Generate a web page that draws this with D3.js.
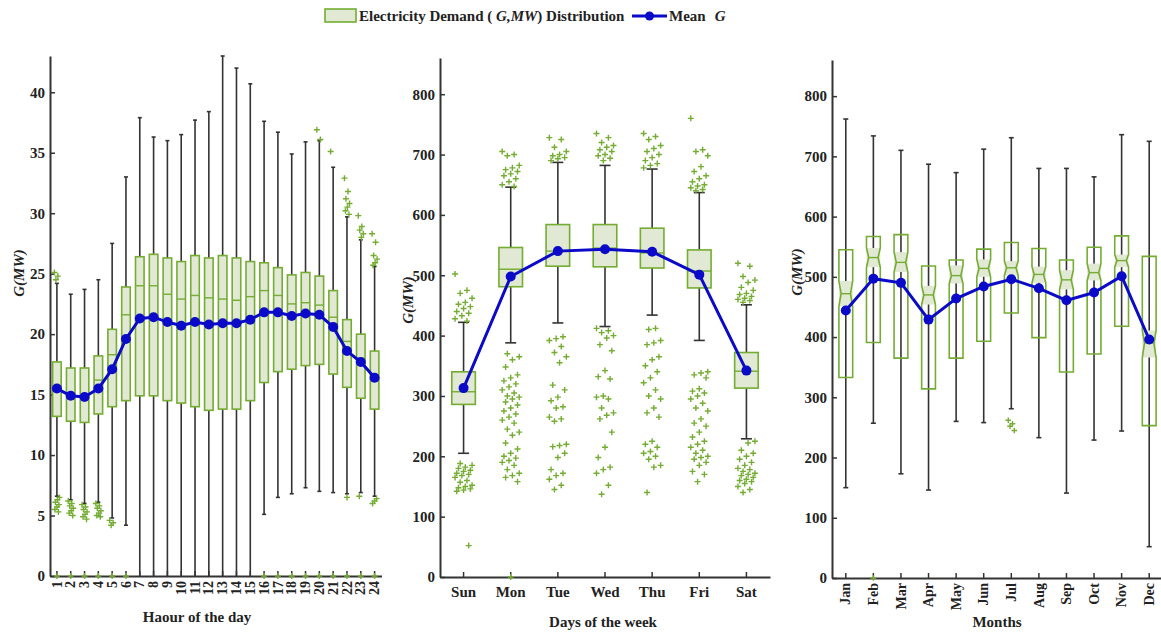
<!DOCTYPE html>
<html lang="en">
	<head>
		<meta charset="utf-8">
		<title>Electricity demand distribution</title>
		<script type="text/javascript" src="https://cdn.jsdelivr.net/npm/d3@7/dist/d3.min.js"></script>
		<style type="text/css">
			body { margin: 0; background: #fff; }
			text { font-family: "Liberation Serif", "Times New Roman", serif; font-weight: bold; fill: #222; }
		</style>
	</head>
	<body>
		<script type="text/javascript">

			//Width and height
			var w = 1161;
			var h = 635;

			//Hour of the day
			var hours = ["1","2","3","4","5","6","7","8","9","10","11","12","13","14","15","16","17","18","19","20","21","22","23","24"];
			var hourHi  = [24.2, 23.3, 23.7, 24.5, 27.5, 33.0, 37.9, 36.3, 36.0, 36.5, 37.7, 38.4, 43.0, 42.0, 40.7, 37.6, 36.7, 34.9, 35.9, 36.0, 33.8, 29.7, 27.8, 25.6];
			var hourQ3  = [17.7, 17.2, 17.2, 18.2, 20.4, 23.9, 26.4, 26.6, 26.3, 26.0, 26.5, 26.3, 26.5, 26.3, 26.0, 25.9, 25.5, 24.9, 25.1, 24.8, 23.6, 21.2, 20.0, 18.6];
			var hourMed = [15.3, 14.9, 14.8, 16.2, 18.3, 21.6, 24.0, 24.0, 23.3, 22.9, 23.2, 23.0, 22.9, 22.8, 23.1, 23.6, 23.2, 22.5, 22.6, 22.4, 21.4, 19.4, 18.0, 16.5];
			var hourQ1  = [13.2, 12.8, 12.7, 13.4, 14.0, 14.5, 14.9, 14.9, 14.5, 14.3, 14.0, 13.7, 13.8, 13.8, 14.5, 16.0, 16.9, 17.1, 17.4, 17.5, 16.7, 15.6, 14.7, 13.8];
			var hourLo  = [6.6, 6.3, 6.0, 6.1, 4.8, 4.2, 0, 0, 0, 0, 0, 0, 0, 0, 0, 5.1, 6.5, 6.8, 7.3, 7.0, 6.9, 6.8, 6.9, 6.6];
			var hourMean = [15.5, 14.9, 14.8, 15.5, 17.1, 19.6, 21.3, 21.4, 21.0, 20.7, 21.0, 20.8, 20.9, 20.9, 21.2, 21.8, 21.8, 21.5, 21.7, 21.6, 20.6, 18.6, 17.7, 16.4];
			var hourOut = [
				[25.1, 24.8, 24.5, 6.5, 6.3, 6.1, 5.9, 5.7, 5.5, 5.3, 0],
				[6.2, 6.0, 5.8, 5.6, 5.4, 5.2, 5.0, 0],
				[5.9, 5.7, 5.5, 5.3, 5.1, 4.9, 4.7, 0],
				[6.0, 5.8, 5.6, 5.4, 5.2, 5.0, 4.9, 0],
				[4.6, 4.4, 4.2, 0],
				[0],
				[], [], [], [], [], [], [], [], [],
				[0], [0], [0], [0],
				[36.9, 36.1, 0],
				[35.1, 0],
				[32.9, 31.8, 31.2, 30.8, 30.5, 30.2, 29.9, 6.5, 0],
				[29.8, 28.9, 28.6, 28.3, 28.0, 6.6, 0],
				[28.3, 27.6, 26.5, 26.2, 25.9, 25.7, 6.4, 6.2, 6.0, 0]
			];
			var hourTicks = [0, 5, 10, 15, 20, 25, 30, 35, 40];

			//Days of the week
			var days = ["Sun", "Mon", "Tue", "Wed", "Thu", "Fri", "Sat"];
			var dayHi   = [422, 646, 687, 682, 676, 637, 451];
			var dayQ3   = [340, 546, 584, 584, 578, 542, 372];
			var dayMed  = [307, 510, 540, 545, 537, 507, 341];
			var dayQ1   = [286, 481, 515, 514, 512, 479, 313];
			var dayLo   = [205, 388, 421, 415, 434, 392, 229];
			var dayMean = [313, 498, 540, 543, 539, 501, 342];
			var dayOut = [
				[502, 475, 470, 462, 455, 452, 448, 445, 440, 437, 433, 428, 424,
				 188, 185, 182, 180, 177, 175, 172, 170, 168, 165, 160, 157, 152, 150, 148, 146, 144, 142, 52],
				[705, 700, 698, 682, 678, 675, 672, 668, 665, 660, 655, 650, 647,
				 370, 365, 360, 348, 335, 330, 325, 320, 315, 310, 305, 300, 298, 295, 290, 285, 280, 275, 270, 265,
				 260, 255, 245, 240, 235, 222, 212, 205, 200, 197, 193, 190, 185, 178, 172, 168, 165, 158, 0],
				[728, 725, 712, 705, 700, 698, 695, 693, 690,
				 398, 395, 392, 382, 372, 365, 355, 318, 310, 298, 292, 282, 280, 265, 262, 258, 220, 218, 216, 205,
				 198, 178, 172, 168, 162, 152, 145],
				[735, 728, 720, 715, 712, 708, 705, 700, 698, 694, 690,
				 412, 408, 405, 400, 396, 385, 375, 342, 332, 328, 300, 298, 295, 280, 272, 268, 262, 240, 215, 198,
				 182, 178, 172, 152, 137],
				[735, 730, 725, 715, 710, 705, 700, 695, 690, 685, 682, 678,
				 412, 410, 392, 388, 385, 365, 360, 350, 340, 330, 322, 310, 300, 295, 280, 272, 265, 225, 220, 215,
				 208, 205, 200, 195, 185, 182, 140],
				[760, 708, 705, 698, 680, 672, 665, 660, 655, 650, 648, 645, 642, 640,
				 340, 338, 335, 330, 312, 308, 305, 300, 295, 288, 280, 275, 262, 255, 250, 240, 232, 225, 220, 215,
				 210, 205, 200, 198, 195, 190, 185, 175, 170, 158],
				[520, 515, 498, 492, 488, 480, 475, 470, 468, 465, 462, 460, 458, 455,
				 225, 222, 210, 205, 200, 195, 190, 185, 180, 178, 175, 172, 170, 168, 165, 162, 160, 158, 155, 150,
				 145, 140]
			];

			//Months
			var months = ["Jan", "Feb", "Mar", "Apr", "May", "Jun", "Jul", "Aug", "Sep", "Oct", "Nov", "Dec"];
			var monHi   = [762, 734, 710, 687, 673, 712, 731, 680, 680, 666, 736, 725];
			var monQ3   = [545, 567, 570, 518, 528, 546, 557, 547, 528, 549, 568, 534];
			var monNHi  = [493, 548, 541, 485, 519, 529, 526, 517, 511, 522, 537, 411];
			var monMed  = [472, 532, 524, 470, 502, 514, 515, 504, 495, 507, 527, 390];
			var monNLo  = [451, 516, 508, 454, 489, 500, 502, 490, 479, 494, 516, 366];
			var monQ1   = [333, 391, 365, 314, 365, 393, 440, 399, 342, 372, 418, 253];
			var monLo   = [150, 257, 173, 146, 260, 258, 281, 233, 141, 229, 244, 52];
			var monMean = [444, 497, 490, 429, 464, 484, 496, 481, 461, 474, 501, 396];
			var monOut = [[], [0], [], [], [], [], [262, 256, 252, 245], [], [], [], [], []];
			var demandTicks = [0, 100, 200, 300, 400, 500, 600, 700, 800];

			var green = "#74ad32";
			var boxFill = "#e1e8d3";
			var blue = "#0a0ac8";
			var dark = "#333";

			//Create SVG element
			var svg = d3.select("body")
						.append("svg")
						.attr("width", w)
						.attr("height", h);

			// deterministic spread for the outlier crosses
			function spread(i) {
				return ((i * 7) % 11) / 10 - 0.5;
			}

			function drawPanel(p) {
				var stats = p.labels.map(function(d, i) {
					return {
						label: d, hi: p.hi[i], q3: p.q3[i], med: p.med[i], q1: p.q1[i], lo: p.lo[i],
						mean: p.mean[i], out: p.out[i],
						nhi: p.nhi ? p.nhi[i] : null, nlo: p.nlo ? p.nlo[i] : null
					};
				});

				var xScale = d3.scaleBand()
								.domain(p.labels)
								.range([p.x0, p.x1]);
				var yScale = d3.scaleLinear()
								.domain([0, p.ymax])
								.range([p.y0, p.y1]);
				var cx = function(d) { return xScale(d.label) + xScale.bandwidth() / 2; };
				var bw = xScale.bandwidth() * p.boxRatio;

				//Create X axis
				var xAxis = d3.axisBottom(xScale).tickSizeInner(-5).tickSizeOuter(0);
				var gx = svg.append("g")
					.attr("class", "x axis")
					.attr("transform", "translate(0," + p.y0 + ")")
					.call(xAxis);
				gx.selectAll("text")
					.style("font-size", p.xFont + "px")
					.attr("fill", "#222");
				if (p.rotate) {
					gx.selectAll("text")
						.attr("y", 0)
						.attr("x", -5)
						.attr("dy", "0.33em")
						.attr("transform", "rotate(-90)")
						.style("text-anchor", "end");
				} else {
					gx.selectAll("text").attr("dy", "1.1em");
				}

				//Create Y axis
				var yAxis = d3.axisLeft(yScale).tickValues(p.ticks).tickSizeInner(-5).tickSizeOuter(0).tickPadding(5);
				var gy = svg.append("g")
					.attr("class", "y axis")
					.attr("transform", "translate(" + p.x0 + ",0)")
					.call(yAxis);
				gy.selectAll("text")
					.style("font-size", "15px")
					.attr("fill", "#222");

				[gx, gy].forEach(function(a) {
					a.select(".domain").attr("stroke", dark).attr("stroke-width", 2);
					a.selectAll(".tick line").attr("stroke", dark).attr("stroke-width", 1.5);
				});

				var g = svg.append("g");

				//Whiskers
				g.selectAll("line.whisker")
					.data(stats)
					.enter()
					.append("line")
					.attr("class", "whisker")
					.attr("x1", cx).attr("x2", cx)
					.attr("y1", function(d) { return yScale(d.hi); })
					.attr("y2", function(d) { return yScale(d.lo); })
					.attr("stroke", dark)
					.attr("stroke-width", 1.6);

				//Whisker caps
				["hi", "lo"].forEach(function(k) {
					g.selectAll("line.cap-" + k)
						.data(stats.filter(function(d) { return d[k] > 0; }))
						.enter()
						.append("line")
						.attr("x1", function(d) { return cx(d) - p.cap / 2; })
						.attr("x2", function(d) { return cx(d) + p.cap / 2; })
						.attr("y1", function(d) { return yScale(d[k]); })
						.attr("y2", function(d) { return yScale(d[k]); })
						.attr("stroke", dark)
						.attr("stroke-width", 1.6);
				});

				if (p.notch) {
					//Notch confidence band
					g.selectAll("rect.nband")
						.data(stats)
						.enter()
						.append("rect")
						.attr("x", function(d) { return cx(d) - bw / 2; })
						.attr("width", bw)
						.attr("y", function(d) { return yScale(d.nhi); })
						.attr("height", function(d) { return yScale(d.nlo) - yScale(d.nhi); })
						.attr("fill", boxFill);

					var ind = bw * 0.16;
					g.selectAll("path.nbox")
						.data(stats)
						.enter()
						.append("path")
						.attr("d", function(d) {
							var l = cx(d) - bw / 2, r = cx(d) + bw / 2;
							return "M" + l + "," + yScale(d.q3) + "H" + r +
								"V" + yScale(d.nhi) + "L" + (r - ind) + "," + yScale(d.med) +
								"L" + r + "," + yScale(d.nlo) + "V" + yScale(d.q1) + "H" + l +
								"V" + yScale(d.nlo) + "L" + (l + ind) + "," + yScale(d.med) +
								"L" + l + "," + yScale(d.nhi) + "Z";
						})
						.attr("fill", "none")
						.attr("stroke", green)
						.attr("stroke-width", 1.6);

					g.selectAll("line.med")
						.data(stats)
						.enter()
						.append("line")
						.attr("x1", function(d) { return cx(d) - bw / 2 + ind; })
						.attr("x2", function(d) { return cx(d) + bw / 2 - ind; })
						.attr("y1", function(d) { return yScale(d.med); })
						.attr("y2", function(d) { return yScale(d.med); })
						.attr("stroke", green)
						.attr("stroke-width", 1.4);
				} else {
					//Boxes
					g.selectAll("rect.box")
						.data(stats)
						.enter()
						.append("rect")
						.attr("x", function(d) { return cx(d) - bw / 2; })
						.attr("width", bw)
						.attr("y", function(d) { return yScale(d.q3); })
						.attr("height", function(d) { return yScale(d.q1) - yScale(d.q3); })
						.attr("fill", boxFill)
						.attr("stroke", green)
						.attr("stroke-width", 1.6);

					g.selectAll("line.med")
						.data(stats)
						.enter()
						.append("line")
						.attr("x1", function(d) { return cx(d) - bw / 2; })
						.attr("x2", function(d) { return cx(d) + bw / 2; })
						.attr("y1", function(d) { return yScale(d.med); })
						.attr("y2", function(d) { return yScale(d.med); })
						.attr("stroke", green)
						.attr("stroke-width", 1.4);
				}

				//Outliers
				var pts = [];
				stats.forEach(function(d) {
					d.out.forEach(function(v, i) {
						pts.push({ x: cx(d) + (v === 0 ? 0 : spread(i) * p.jitter), v: v });
					});
				});
				g.selectAll("path.out")
					.data(pts)
					.enter()
					.append("path")
					.attr("d", function(d) {
						var x = d.x, y = yScale(d.v), s = p.plus;
						return "M" + (x - s) + "," + y + "H" + (x + s) + "M" + x + "," + (y - s) + "V" + (y + s);
					})
					.attr("stroke", green)
					.attr("stroke-width", 1.4)
					.attr("fill", "none");

				//Mean line
				var line = d3.line()
							.x(cx)
							.y(function(d) { return yScale(d.mean); });
				g.append("path")
					.datum(stats)
					.attr("d", line)
					.attr("fill", "none")
					.attr("stroke", blue)
					.attr("stroke-width", 3);
				g.selectAll("circle")
					.data(stats)
					.enter()
					.append("circle")
					.attr("cx", cx)
					.attr("cy", function(d) { return yScale(d.mean); })
					.attr("r", 5)
					.attr("fill", blue);

				//Axis titles
				svg.append("text")
					.attr("x", p.titleX)
					.attr("y", p.titleY)
					.attr("text-anchor", "middle")
					.style("font-size", "15px")
					.text(p.title);

				svg.append("text")
					.attr("transform", "translate(" + p.labX + "," + p.labY + ") rotate(-90)")
					.attr("text-anchor", "middle")
					.style("font-size", "15px")
					.style("font-style", "italic")
					.text("G(MW)");
			}

			drawPanel({
				labels: hours, hi: hourHi, q3: hourQ3, med: hourMed, q1: hourQ1, lo: hourLo,
				mean: hourMean, out: hourOut, ticks: hourTicks, ymax: 43,
				x0: 50, x1: 381.5, y0: 576, y1: 56, boxRatio: 0.62, cap: 4, jitter: 5, plus: 3,
				rotate: true, xFont: 14, title: "Haour of the day", titleX: 197, titleY: 622, labX: 24, labY: 273
			});

			drawPanel({
				labels: days, hi: dayHi, q3: dayQ3, med: dayMed, q1: dayQ1, lo: dayLo,
				mean: dayMean, out: dayOut, ticks: demandTicks, ymax: 860,
				x0: 440, x1: 770, y0: 577, y1: 58, boxRatio: 0.5, cap: 11, jitter: 17, plus: 3,
				rotate: false, xFont: 15, title: "Days of the week", titleX: 603, titleY: 627, labX: 413, labY: 300
			});

			drawPanel({
				labels: months, hi: monHi, q3: monQ3, med: monMed, q1: monQ1, lo: monLo,
				mean: monMean, out: monOut, nhi: monNHi, nlo: monNLo, notch: true,
				ticks: demandTicks, ymax: 860,
				x0: 832, x1: 1163, y0: 578, y1: 60, boxRatio: 0.5, cap: 5, jitter: 6, plus: 2.8,
				rotate: true, xFont: 14, title: "Months", titleX: 997, titleY: 627, labX: 802, labY: 272
			});

			//Legend
			var legend = svg.append("g");
			legend.append("rect")
				.attr("x", 325).attr("y", 9)
				.attr("width", 31).attr("height", 13)
				.attr("fill", boxFill)
				.attr("stroke", green)
				.attr("stroke-width", 1.6);
			var lt = legend.append("text")
				.attr("x", 359).attr("y", 21)
				.style("font-size", "15px");
			lt.append("tspan").text("Electricity Demand ( ");
			lt.append("tspan").style("font-style", "italic").text("G,MW");
			lt.append("tspan").text(") Distribution");

			legend.append("line")
				.attr("x1", 632).attr("x2", 667)
				.attr("y1", 16).attr("y2", 16)
				.attr("stroke", blue)
				.attr("stroke-width", 3);
			legend.append("circle")
				.attr("cx", 649.5).attr("cy", 16)
				.attr("r", 4.5)
				.attr("fill", blue);
			var mt = legend.append("text")
				.attr("x", 669).attr("y", 21)
				.style("font-size", "15px");
			mt.append("tspan").text("Mean");
			mt.append("tspan").attr("dx", 9).style("font-style", "italic").text("G");

		</script>
	</body>
</html>
